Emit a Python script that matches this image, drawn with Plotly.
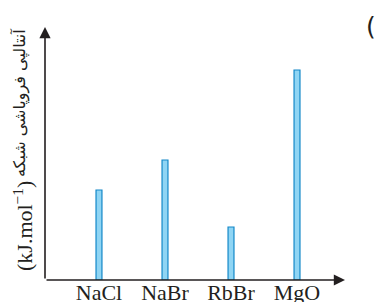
import plotly.graph_objects as go

categories = ["NaCl", "NaBr", "RbBr", "MgO"]
values = [90, 120, 53, 210]
y_title_fa = "آنتالپی فروپاشی شبکه"
y_title_unit = "(kJ.mol<sup>−1</sup>)"
corner_label = "(۱"

# page body has an 8px margin; figure margins chosen so the plot area sits at
# window pixels x 45..345, y 27..280
OFF = 8
L, R, T, B = 45 - OFF, 383 - 345 + OFF, 27 - OFF, 302 - 280 + OFF
PW, PH = 300, 253


def px(X):
    return (X - OFF - L) / PW


def py(Y):
    return (280 - Y) / PH


fig = go.Figure()
fig.add_trace(go.Bar(
    x=categories, y=values, width=0.09,
    marker=dict(color="#8fd5f4", line=dict(color="#1488c8", width=1.2)),
))

axis_color = "#231f20"
fig.update_layout(
    width=383, height=302,
    margin=dict(l=L, r=R, t=T, b=B, autoexpand=False),
    paper_bgcolor="white", plot_bgcolor="white",
    showlegend=False,
    xaxis=dict(range=[-0.818, 3.727], showgrid=False, zeroline=False, showline=False,
               automargin=False, ticks="", ticklabelstandoff=-3,
               tickfont=dict(family="Liberation Serif", size=22, color="#231f20")),
    yaxis=dict(range=[0, 253], showgrid=False, zeroline=False, showline=False,
               automargin=False, showticklabels=False, ticks=""),
    annotations=[
        dict(x=1, y=0, xref="x domain", yref="y domain", ax=0, ay=0, axref="x domain", ayref="y domain",
             showarrow=True, arrowhead=2, arrowsize=1.4, arrowwidth=1.6, arrowcolor=axis_color, text=""),
        dict(x=0, y=1, xref="x domain", yref="y domain", ax=0, ay=0, axref="x domain", ayref="y domain",
             showarrow=True, arrowhead=2, arrowsize=1.4, arrowwidth=1.6, arrowcolor=axis_color, text=""),
        dict(x=px(23), y=py(226), xref="paper", yref="paper", text=y_title_unit, textangle=-90,
             xanchor="center", yanchor="middle",
             showarrow=False, font=dict(family="Liberation Serif", size=22, color="#231f20")),
        dict(x=px(20), y=py(103), xref="paper", yref="paper", text=y_title_fa, textangle=-90,
             xanchor="center", yanchor="middle",
             showarrow=False, font=dict(family="DejaVu Sans", size=16, color="#231f20")),
        dict(x=px(364), y=py(26), xref="paper", yref="paper", text=corner_label,
             showarrow=False, xanchor="left", yanchor="middle",
             font=dict(family="DejaVu Sans", size=25, color="#231f20")),
    ],
)
fig.write_html("out.html")
